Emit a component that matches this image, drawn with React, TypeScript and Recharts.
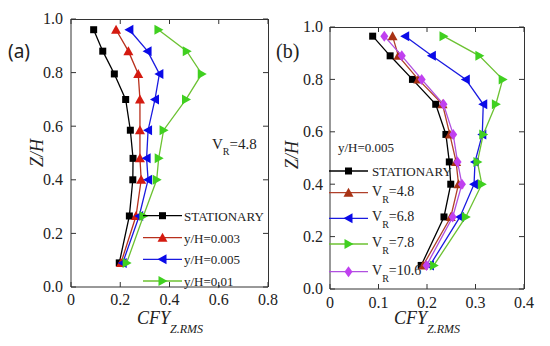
import React from "react";
import { ScatterChart, Scatter, XAxis, YAxis } from "recharts";

// Z/H levels of the measuring taps
const zA = [0.96, 0.88, 0.795, 0.7, 0.585, 0.48, 0.4, 0.265, 0.09];
const zB = [0.965, 0.89, 0.8, 0.705, 0.59, 0.485, 0.4, 0.275, 0.09];

// panel (a): V_R = 4.8, different y/H
const statA = [0.092, 0.129, 0.176, 0.222, 0.241, 0.252, 0.251, 0.237, 0.196];
const yh003 = [0.183, 0.233, 0.273, 0.28, 0.28, 0.28, 0.285, 0.264, 0.203];
const yh005 = [0.237, 0.311, 0.359, 0.341, 0.313, 0.307, 0.313, 0.277, 0.21];
const yh01 = [0.355, 0.47, 0.531, 0.467, 0.376, 0.356, 0.348, 0.294, 0.226];

// panel (b): y/H = 0.005, different V_R
const statB = [0.088, 0.124, 0.17, 0.218, 0.239, 0.246, 0.249, 0.235, 0.188];
const vr48 = [0.129, 0.141, 0.182, 0.232, 0.247, 0.26, 0.265, 0.249, 0.192];
const vr68 = [0.155, 0.21, 0.28, 0.316, 0.314, 0.299, 0.297, 0.268, 0.206];
const vr78 = [0.234, 0.308, 0.356, 0.342, 0.316, 0.304, 0.313, 0.28, 0.214];
const vr106 = [0.112, 0.148, 0.189, 0.234, 0.254, 0.263, 0.272, 0.253, 0.199];

const yTicks = [0, 0.2, 0.4, 0.6, 0.8, 1.0];
const xTicksA = [0, 0.2, 0.4, 0.6, 0.8];
const xTicksB = [0, 0.1, 0.2, 0.3, 0.4];

const toPoints = (xs: number[], zs: number[]) =>
  xs.map((x, i) => ({ x, z: zs[i] }));

const SERIF = "'Liberation Serif', 'Times New Roman', serif";
const AXIS = "#333";

type Kind = "square" | "up" | "left" | "right" | "diamond";

const markerPath = (kind: Kind, cx: number, cy: number) => {
  switch (kind) {
    case "up":
      return `M${cx},${cy - 5}L${cx + 5},${cy + 4}L${cx - 5},${cy + 4}Z`;
    case "left":
      return `M${cx - 5},${cy}L${cx + 4},${cy - 5}L${cx + 4},${cy + 5}Z`;
    case "right":
      return `M${cx + 5},${cy}L${cx - 4},${cy - 5}L${cx - 4},${cy + 5}Z`;
    case "diamond":
      return `M${cx},${cy - 5.5}L${cx + 4},${cy}L${cx},${cy + 5.5}L${cx - 4},${cy}Z`;
    default:
      return `M${cx - 3.5},${cy - 3.5}h7v7h-7Z`;
  }
};

const makeShape = (kind: Kind, fill: string) => (props: any) =>
  <path d={markerPath(kind, props.cx, props.cy)} fill={fill} />;

interface Series {
  name: string;
  xs: number[];
  kind: Kind;
  line: string;
  fill: string;
}

const seriesA: Series[] = [
  { name: "STATIONARY", xs: statA, kind: "square", line: "#000", fill: "#000" },
  { name: "y/H=0.003", xs: yh003, kind: "up", line: "#b8301c", fill: "#d41a10" },
  { name: "y/H=0.005", xs: yh005, kind: "left", line: "#1a1ae0", fill: "#0a0ae8" },
  { name: "y/H=0,01", xs: yh01, kind: "right", line: "#6cc232", fill: "#40d020" },
];

const seriesB: Series[] = [
  { name: "STATIONARY", xs: statB, kind: "square", line: "#000", fill: "#000" },
  { name: "4.8", xs: vr48, kind: "up", line: "#b0402a", fill: "#a83214" },
  { name: "6.8", xs: vr68, kind: "left", line: "#1a1ae0", fill: "#0a0ae8" },
  { name: "7.8", xs: vr78, kind: "right", line: "#6cc232", fill: "#40d020" },
  { name: "10.6", xs: vr106, kind: "diamond", line: "#b050e0", fill: "#c040f0" },
];

const renderXTick = (props: any) => {
  const v = props.payload.value as number;
  return (
    <text x={props.x} y={props.y} dy="0.71em" textAnchor="middle" fontFamily={SERIF} fontSize={16} fill="#222">
      {v === 0 ? "0" : v.toFixed(1)}
    </text>
  );
};

const renderYTick = (props: any) => (
  <text x={props.x} y={props.y} dy="0.34em" textAnchor="end" fontFamily={SERIF} fontSize={16} fill="#222">
    {(props.payload.value as number).toFixed(1)}
  </text>
);

interface PanelProps {
  left: number;
  width: number;
  margin: { top: number; right: number; bottom: number; left: number };
  yWidth: number;
  xMax: number;
  xTicks: number[];
  zs: number[];
  series: Series[];
  yMargin: number;
  xMargin: number;
}

const Panel = ({ left, width, margin, yWidth, xMax, xTicks, zs, series, yMargin, xMargin }: PanelProps) => (
  <ScatterChart
    width={width}
    height={346}
    margin={margin}
    style={{ position: "absolute", left, top: 0 }}
  >
    <XAxis
      type="number"
      dataKey="x"
      domain={[0, xMax]}
      ticks={xTicks}
      height={30}
      tickSize={-5}
      tickMargin={xMargin}
      tick={renderXTick}
      stroke={AXIS}
      interval={0}
    />
    <YAxis
      type="number"
      dataKey="z"
      domain={[0, 1]}
      ticks={yTicks}
      width={yWidth}
      tickSize={-5}
      tickMargin={yMargin}
      tick={renderYTick}
      stroke={AXIS}
      interval={0}
    />
    {series.map((s) => (
      <Scatter
        key={s.name}
        data={toPoints(s.xs, zs)}
        line={{ stroke: s.line, strokeWidth: 1.3 }}
        lineType="joint"
        shape={makeShape(s.kind, s.fill)}
        isAnimationActive={false}
      />
    ))}
  </ScatterChart>
);

// top and right edges of the box, with inward ticks (the plot box matches the chart margins)
const BoxEdges = ({ x0, x1, y0, y1, xMax, xTicks }: { x0: number; x1: number; y0: number; y1: number; xMax: number; xTicks: number[] }) => {
  const px = (t: number) => x0 + (t / xMax) * (x1 - x0);
  const py = (t: number) => y0 - t * (y0 - y1);
  return (
    <g stroke={AXIS} strokeWidth={1}>
      <line x1={x0} x2={x1 + 0.5} y1={y1 + 0.5} y2={y1 + 0.5} />
      <line x1={x1 + 0.5} x2={x1 + 0.5} y1={y1} y2={y0} />
      {xTicks.map((t) => (
        <line key={"x" + t} x1={px(t)} x2={px(t)} y1={y1} y2={y1 + 5} />
      ))}
      {yTicks.map((t) => (
        <line key={"y" + t} x1={x1} x2={x1 - 5} y1={py(t)} y2={py(t)} />
      ))}
    </g>
  );
};

const LegendRow = ({ s, x1, x2, y, children }: { s: Series; x1: number; x2: number; y: number; children: React.ReactNode }) => (
  <g>
    <line x1={x1} x2={x2} y1={y} y2={y} stroke={s.line} strokeWidth={1.3} />
    <path d={markerPath(s.kind, (x1 + x2) / 2, y)} fill={s.fill} />
    {children}
  </g>
);

const CfyTitle = ({ x }: { x: number }) => (
  <text x={x} y={324} textAnchor="middle" fontFamily={SERIF} fontStyle="italic" fill="#222">
    <tspan fontSize={18}>CFY</tspan>
    <tspan fontSize={12} dy={9}>Z.RMS</tspan>
  </text>
);

const ZhTitle = ({ x, y }: { x: number; y: number }) => (
  <text
    x={x}
    y={y}
    transform={`rotate(-90 ${x} ${y})`}
    textAnchor="middle"
    fontFamily={SERIF}
    fontStyle="italic"
    fontSize={18}
    fill="#222"
  >
    Z/H
  </text>
);

const legendYA = [215.7, 237.7, 259.3, 281];
const legendYB = [171, 192.7, 218.3, 244, 271.7];

export default function App() {
  return (
    <div style={{ position: "absolute", left: 0, top: 0, width: 550, height: 346, background: "#fff" }}>
      <Panel
        left={0}
        width={285}
        margin={{ top: 19, right: 17, bottom: 29, left: 0 }}
        yWidth={71}
        xMax={0.8}
        xTicks={xTicksA}
        zs={zA}
        series={seriesA}
        yMargin={13}
        xMargin={12}
      />
      <Panel
        left={275}
        width={275}
        margin={{ top: 27, right: 26, bottom: 27, left: 0 }}
        yWidth={55}
        xMax={0.4}
        xTicks={xTicksB}
        zs={zB}
        series={seriesB}
        yMargin={12}
        xMargin={13}
      />
      <svg
        width={550}
        height={346}
        style={{ position: "absolute", left: 0, top: 0, pointerEvents: "none" }}
      >
        <BoxEdges x0={71} x1={268} y0={287} y1={19} xMax={0.8} xTicks={xTicksA} />
        <BoxEdges x0={330} x1={524} y0={289} y1={27} xMax={0.4} xTicks={xTicksB} />

        <text x={8} y={58} fontFamily="'Noto Sans', sans-serif" fontSize={19} fill="#222">
          (a)
        </text>
        <text x={276} y={58} fontFamily={SERIF} fontSize={20} fill="#222">
          (b)
        </text>
        <ZhTitle x={43} y={153} />
        <ZhTitle x={298} y={155} />
        <CfyTitle x={170} />
        <CfyTitle x={427} />

        <text x={212} y={149} fontFamily={SERIF} fontSize={15} fill="#222">
          <tspan>V</tspan>
          <tspan fontSize={10} dy={6}>R</tspan>
          <tspan dy={-6}>=4.8</tspan>
        </text>

        {seriesA.map((s, i) => (
          <LegendRow key={s.name} s={s} x1={143} x2={182} y={legendYA[i]}>
            <text x={184} y={legendYA[i] + 5} fontFamily={SERIF} fontSize={13} fill="#222">
              {s.name}
            </text>
          </LegendRow>
        ))}

        <text x={338} y={152} fontFamily={SERIF} fontSize={13} fill="#222">
          y/H=0.005
        </text>
        {seriesB.map((s, i) => (
          <LegendRow key={s.name} s={s} x1={329} x2={368} y={legendYB[i]}>
            {i === 0 ? (
              <text x={372} y={legendYB[i] + 5} fontFamily={SERIF} fontSize={13} fill="#222">
                {s.name}
              </text>
            ) : (
              <text x={372} y={legendYB[i] + 3} fontFamily={SERIF} fontSize={14} fill="#222">
                <tspan>V</tspan>
                <tspan fontSize={10} dy={7}>R</tspan>
                <tspan dy={-7}>={s.name}</tspan>
              </text>
            )}
          </LegendRow>
        ))}
      </svg>
    </div>
  );
}
